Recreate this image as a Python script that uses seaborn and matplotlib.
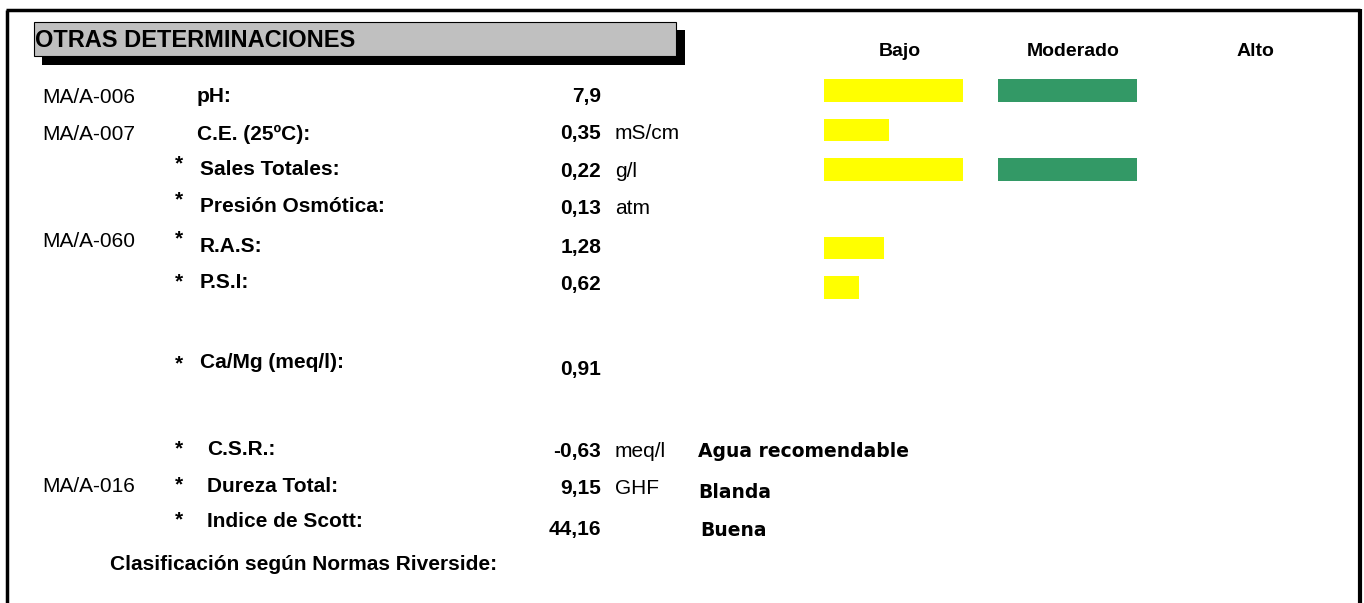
import matplotlib
matplotlib.use("Agg")
import matplotlib.pyplot as plt
import seaborn as sns
from matplotlib.patches import Rectangle

sns.set_theme(style="white")
plt.rcParams['font.family'] = ['Liberation Sans', 'DejaVu Sans']
plt.rcParams['text.color'] = 'black'

# ---- datos ----
codes = ["MA/A-006", "MA/A-007", "MA/A-060", "MA/A-016"]
params = ["pH:", "C.E. (25ºC):", "Sales Totales:", "Presión Osmótica:", "R.A.S:",
          "P.S.I:", "Ca/Mg (meq/l):", "C.S.R.:", "Dureza Total:", "Indice de Scott:"]
starred = [False, False, True, True, True, True, True, True, True, True]
values = ["7,9", "0,35", "0,22", "0,13", "1,28", "0,62", "0,91", "-0,63", "9,15", "44,16"]
units = ["", "mS/cm", "g/l", "atm", "", "", "", "meq/l", "GHF", ""]
verdicts = ["", "", "", "", "", "", "", "Agua recomendable", "Blanda", "Buena"]

levels = ["Bajo", "Moderado", "Alto"]
bar_rows = ["pH", "C.E.", "Sales Totales", "Presión Osmótica", "R.A.S", "P.S.I"]
bajo = [1.0, 0.47, 1.0, 0.0, 0.43, 0.25]
moderado = [1.0, 0.0, 1.0, 0.0, 0.0, 0.0]

# ---- posiciones (pixeles) ----
W, H = 1364, 603
param_y = [102, 140, 175, 212, 252, 288, 368, 455, 492, 527]
param_x = [197, 197, 200, 200, 200, 200, 200, 207, 207, 207]
star_top = [0, 0, 157, 193, 232, 275, 357, 442, 478, 513]
value_y = [102, 139, 177, 214, 253, 290, 375, 457, 494, 535]
code_y = [103, 140, 247, 492]
verdict_y = [0, 0, 0, 0, 0, 0, 0, 457, 498, 536]
verdict_x = [0, 0, 0, 0, 0, 0, 0, 698, 698, 700]

fig = plt.figure(figsize=(W / 100, H / 100), dpi=100)
fig.patch.set_facecolor("white")

# capa de texto en coordenadas de pixel
ov = fig.add_axes([0, 0, 1, 1])
ov.set_xlim(0, W)
ov.set_ylim(H, 0)
ov.axis("off")

# marco
ov.plot([7, 7], [10, H], color="black", lw=2.5, solid_capstyle="butt")
ov.plot([6, 1360], [10, 10], color="black", lw=2.5, solid_capstyle="butt")
ov.plot([1360, 1360], [9, H], color="black", lw=3, solid_capstyle="butt")

# cabecera con sombra
ov.add_patch(Rectangle((42, 30), 643, 35, facecolor="black", edgecolor="none"))
ov.add_patch(Rectangle((34, 22), 642, 34, facecolor="#c0c0c0", edgecolor="black", lw=0.8))
ov.text(35, 47, "OTRAS DETERMINACIONES", fontsize=17, fontweight="bold", va="baseline")

# niveles
for lab, cx in zip(levels, [900, 1073, 1255]):
    ov.text(cx, 56, lab, fontsize=14, fontweight="bold", ha="center", va="baseline")

# codigos de metodo
for c, y in zip(codes, code_y):
    ov.text(42, y, c, fontsize=15, va="baseline")

# parametros, valores, unidades
for i, p in enumerate(params):
    ov.text(param_x[i], param_y[i], p, fontsize=15, fontweight="bold", va="baseline")
    if starred[i]:
        ov.text(175, star_top[i] + 12, "*", fontsize=15, fontweight="bold", va="baseline")
    ov.text(601, value_y[i], values[i], fontsize=15, fontweight="bold", ha="right", va="baseline")
    if units[i]:
        ov.text(615, value_y[i], units[i], fontsize=15, va="baseline")
    if verdicts[i]:
        ov.text(verdict_x[i], verdict_y[i], verdicts[i], fontsize=13.5, fontweight="bold",
                va="baseline", family=["DejaVu Sans"])

ov.text(110, 570, "Clasificación según Normas Riverside:", fontsize=15, fontweight="bold", va="baseline")

# barras de nivel
top_px, bot_px = 70.8, 307.2
for left_px, vals, col in [(824, bajo, "#ffff00"), (998, moderado, "#339966")]:
    ax = fig.add_axes([left_px / W, 1 - bot_px / H, 139 / W, (bot_px - top_px) / H])
    sns.barplot(x=vals, y=bar_rows, orient="h", color=col, saturation=1, width=0.57,
                ax=ax, edgecolor="none")
    ax.set_xlim(0, 1)
    ax.axis("off")
    ax.patch.set_alpha(0)

fig.savefig("out.png", dpi=100, facecolor="white")
